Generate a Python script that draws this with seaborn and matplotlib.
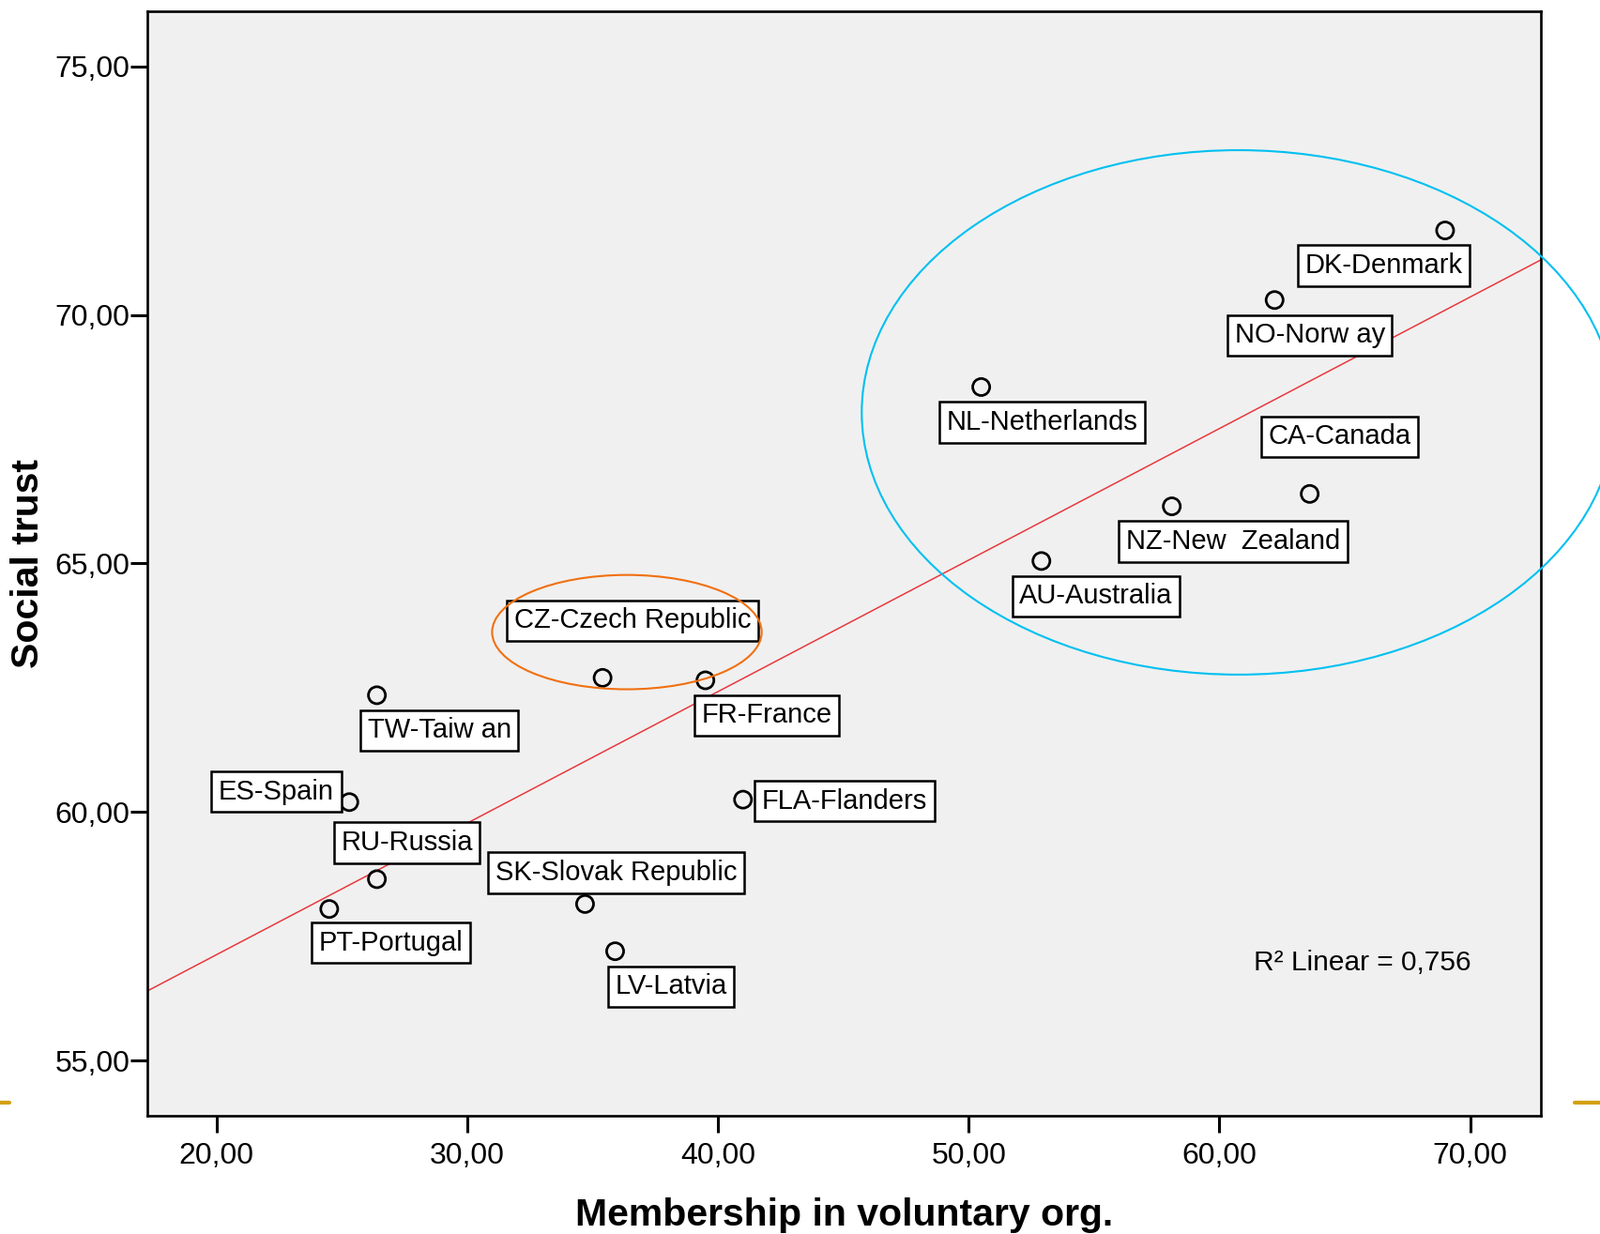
import seaborn as sns
import matplotlib.pyplot as plt
import pandas as pd
from matplotlib.patches import Ellipse
from matplotlib.lines import Line2D
from matplotlib.ticker import FuncFormatter, MultipleLocator

countries = ['DK-Denmark', 'NO-Norw ay', 'NL-Netherlands', 'CA-Canada', 'NZ-New  Zealand',
             'AU-Australia', 'CZ-Czech Republic', 'FR-France', 'TW-Taiw an', 'ES-Spain',
             'FLA-Flanders', 'RU-Russia', 'PT-Portugal', 'SK-Slovak Republic', 'LV-Latvia']
membership = [69.0, 62.2, 50.5, 63.6, 58.1, 52.9, 35.4, 39.5, 26.4, 25.3,
              41.0, 26.4, 24.5, 34.7, 35.9]
trust = [71.7, 70.3, 68.55, 66.4, 66.15, 65.05, 62.7, 62.65, 62.35, 60.2,
         60.25, 58.65, 58.05, 58.15, 57.2]
r2_text = 'R² Linear = 0,756'

# label offsets from each point, in points
label_offsets = [(-47, -27), (27, -27), (47, -27), (23, 44), (47, -27),
                 (42, -27), (23, 44), (47, -27), (48, -27), (-56, 8),
                 (78, -1), (23, 28), (47, -26), (24, 24), (43, -27)]

df = pd.DataFrame({'country': countries, 'membership': membership, 'trust': trust})

sns.set_theme(style='white')
plt.rcParams['font.family'] = ['Liberation Sans', 'DejaVu Sans']
plt.rcParams['text.color'] = 'black'
plt.rcParams['axes.labelcolor'] = 'black'
plt.rcParams['xtick.color'] = 'black'
plt.rcParams['ytick.color'] = 'black'

fig = plt.figure(figsize=(17.06, 13.15), dpi=100)
ax = fig.add_axes([0.0918, 0.0958, 0.8707, 0.8951])
ax.set_facecolor('#f0f0f0')
ax.set_xlim(17.23, 72.82)
ax.set_ylim(53.89, 76.11)

sns.regplot(data=df, x='membership', y='trust', scatter=False, ci=None, truncate=False,
            line_kws={'color': '#e8383d', 'lw': 1.1}, ax=ax)
sns.scatterplot(data=df, x='membership', y='trust', s=170, facecolor='none',
                edgecolor='black', linewidth=2.0, ax=ax, zorder=4)

for name, x, y, off in zip(countries, membership, trust, label_offsets):
    ax.annotate(name, (x, y), xytext=off, textcoords='offset points', ha='center', va='center',
                fontsize=21, zorder=5,
                bbox=dict(boxstyle='square,pad=0.26', fc='white', ec='black', lw=1.8))

ax.add_patch(Ellipse((60.76, 68.04), 30.05, 10.55, fill=False, ec='#00c0f0', lw=1.5,
                     clip_on=False, zorder=6))
ax.add_patch(Ellipse((36.37, 63.62), 10.75, 2.30, fill=False, ec='#f07010', lw=1.5, zorder=6))

ax.text(61.37, 56.97, r2_text, fontsize=21.5, va='center', ha='left')

ax.xaxis.set_major_locator(MultipleLocator(10))
ax.yaxis.set_major_locator(MultipleLocator(5))
fmt = FuncFormatter(lambda v, p: f'{v:.2f}'.replace('.', ','))
ax.xaxis.set_major_formatter(fmt)
ax.yaxis.set_major_formatter(fmt)
ax.tick_params(axis='both', length=13, width=2.2, labelsize=23, direction='out')
ax.tick_params(axis='y', pad=0)
ax.tick_params(axis='x', pad=7)
ax.tick_params(left=True, bottom=True)
for s in ax.spines.values():
    s.set_color('black')
    s.set_linewidth(1.9)

ax.set_xlabel('Membership in voluntary org.', fontsize=29.5, fontweight='bold', labelpad=21)
ax.set_ylabel('Social trust', fontsize=29.5, fontweight='bold', labelpad=7)

# small gold marks at the slide edges
fig.add_artist(Line2D([0, 10 / 1706], [1 - 1175 / 1315] * 2, color='#d4a00f', lw=3))
fig.add_artist(Line2D([1678 / 1706, 1], [1 - 1175 / 1315] * 2, color='#d4a00f', lw=3))

fig.savefig('out.png', dpi=100)
